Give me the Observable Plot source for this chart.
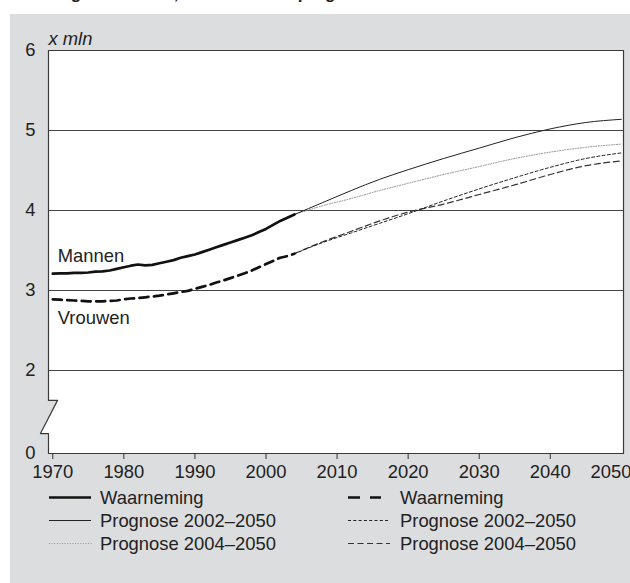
<!DOCTYPE html>
<html><head><meta charset="utf-8">
<script src="https://cdn.jsdelivr.net/npm/d3@7"></script>
<script src="https://cdn.jsdelivr.net/npm/@observablehq/plot@0.6"></script>
<style>
body{margin:0;background:#fff;font-family:"Liberation Sans",Arial,Helvetica,sans-serif;color:#222}
#wrap{position:relative;width:630px;height:583px;overflow:hidden;background:#fff}
#title{position:absolute;left:0;top:0;width:630px;height:14px;overflow:hidden}
#title span{position:absolute;left:0;top:-15px;font-weight:bold;font-size:17px;line-height:18px;white-space:nowrap}
#panel{position:absolute;left:10px;top:14px;width:620px;height:569px;background:#dcdddf}
#chart{position:absolute;left:0;top:0}
.leg{position:absolute;height:23px;line-height:23px;font-size:18.4px;white-space:nowrap}
.leg svg{position:absolute;top:0}
.leg span{position:absolute;top:0}
</style>
</head><body>
<div id="wrap">
  <div id="title"><span>Bevolking naar sekse, 1970–2050 en prognose</span></div>
  <div id="panel"><div id="chart"></div><div id="legend"></div></div>
</div>
<script>
// ---- data ----
const obsYears = [1970,1971,1972,1973,1974,1975,1976,1977,1978,1979,1980,1981,1982,1983,1984,1985,1986,1987,1988,1989,1990,1991,1992,1993,1994,1995,1996,1997,1998,1999,2000,2001,2002,2003,2004];
const mannenObs = [3.21,3.215,3.215,3.22,3.22,3.225,3.235,3.24,3.25,3.27,3.29,3.31,3.325,3.315,3.32,3.34,3.36,3.38,3.41,3.43,3.45,3.48,3.51,3.54,3.57,3.60,3.63,3.66,3.69,3.73,3.77,3.82,3.87,3.91,3.95];
const vrouwenObs = [2.89,2.885,2.88,2.875,2.87,2.865,2.865,2.865,2.87,2.875,2.89,2.90,2.905,2.915,2.925,2.935,2.95,2.965,2.98,2.995,3.02,3.045,3.07,3.10,3.125,3.155,3.185,3.215,3.25,3.29,3.33,3.37,3.41,3.43,3.46];
const progYears = [2004,2008,2012,2016,2020,2025,2030,2035,2040,2045,2050];
const mannen2002 = [3.95,4.10,4.25,4.39,4.51,4.65,4.78,4.91,5.02,5.10,5.14];
const mannen2004 = [3.95,4.06,4.15,4.25,4.34,4.45,4.55,4.65,4.73,4.79,4.83];
const vrouwen2002 = [3.46,3.60,3.72,3.84,3.96,4.12,4.27,4.41,4.54,4.65,4.72];
const vrouwen2004 = [3.46,3.61,3.74,3.87,3.98,4.08,4.20,4.32,4.45,4.56,4.62];
const xTicks = [1970,1980,1990,2000,2010,2020,2030,2040,2050];
const yTicks = [0,2,3,4,5,6];
const gridValues = [2,3,4,5];
const seriesLabels = [
  {name:"Mannen", year:1970.7, value:3.43},
  {name:"Vrouwen", year:1970.7, value:2.65}
];
// frame outline with axis break (data units)
const breakX = [1969.4, 2050.3, 2050.3, 1969.4, 1969.4, 1968.27, 1970.67, 1969.4, 1969.4];
const breakY = [6, 6, 0, 0, 0.48, 0.48, 1.28, 1.28, 6];
const legendItems = [
  {col:0,row:0,label:"Waarneming", w:2.6, dash:null, color:"#111", len:42},
  {col:0,row:1,label:"Prognose 2002–2050", w:1, dash:null, color:"#222", len:42},
  {col:0,row:2,label:"Prognose 2004–2050", w:1, dash:"1,1.6", color:"#999", len:43},
  {col:1,row:0,label:"Waarneming", w:2.6, dash:"12,10", color:"#111", len:33},
  {col:1,row:1,label:"Prognose 2002–2050", w:1, dash:"3,2.3", color:"#222", len:40},
  {col:1,row:2,label:"Prognose 2004–2050", w:1.2, dash:"6,3.5", color:"#333", len:42}
];

// ---- build tables ----
const zip = (xs, ys) => xs.map((x,i)=>({x, y: ys[i]}));
const outline = zip(breakX, breakY);

const W=620, H=472, mL=38, mR=7, mT=36, mB=33;
const font = '"Liberation Sans",Arial,Helvetica,sans-serif';
const FS = 18.4;

const chart = Plot.plot({
  width:W, height:H, marginLeft:mL, marginRight:mR, marginTop:mT, marginBottom:mB,
  style:{background:"transparent", fontFamily:font, fontSize:FS+"px", color:"#222", overflow:"visible"},
  x:{domain:[1969.4,2050.3]},
  y:{type:"linear", domain:[0,2,6], range:[H-mB, H-mB-83, mT]},
  marks:[
    Plot.line(outline, {x:"x", y:"y", fill:"white", stroke:"none", curve:"linear"}),
    Plot.ruleY(gridValues, {stroke:"#444", strokeWidth:1}),
    Plot.line(outline, {x:"x", y:"y", fill:"none", stroke:"#3a3a3a", strokeWidth:1.2, curve:"linear"}),
    Plot.line(zip(progYears, mannen2004), {x:"x", y:"y", stroke:"#8a8a8a", strokeWidth:1, strokeDasharray:"1,1.6", curve:"monotone-x"}),
    Plot.line(zip(progYears, mannen2002), {x:"x", y:"y", stroke:"#222", strokeWidth:1, curve:"monotone-x"}),
    Plot.line(zip(progYears, vrouwen2004), {x:"x", y:"y", stroke:"#333", strokeWidth:1.2, strokeDasharray:"6,3.5", curve:"monotone-x"}),
    Plot.line(zip(progYears, vrouwen2002), {x:"x", y:"y", stroke:"#222", strokeWidth:1, strokeDasharray:"3,2.3", curve:"monotone-x"}),
    Plot.line(zip(obsYears, mannenObs), {x:"x", y:"y", stroke:"#111", strokeWidth:2.7}),
    Plot.line(zip(obsYears, vrouwenObs), {x:"x", y:"y", stroke:"#111", strokeWidth:2.7, strokeDasharray:"9,5.5"}),
    Plot.text(seriesLabels, {x:"year", y:"value", text:"name", textAnchor:"start", fontSize:FS, fill:"#222"}),
    Plot.text(["x mln"], {frameAnchor:"top-left", text:d=>d, dy:-11, lineAnchor:"middle", textAnchor:"start", fontStyle:"italic", fontSize:FS, fill:"#222"}),
    Plot.axisX(xTicks.slice(0,-1), {tickSize:6, tickPadding:5, tickFormat:"d", fontSize:FS, stroke:"#333"}),
    Plot.axisX(xTicks.slice(-1), {tickSize:6, tickPadding:5, tickFormat:"d", fontSize:FS, stroke:"#333", textAnchor:"end", dx:10}),
    Plot.axisY({ticks:yTicks, tickSize:0, tickPadding:13, tickFormat:"d", fontSize:FS})
  ]
});
document.getElementById("chart").appendChild(chart);

// ---- legend ----
const leg = document.getElementById("legend");
const colX = [[39, 90], [338, 390]];
legendItems.forEach(it => {
  const d = document.createElement("div");
  d.className = "leg";
  d.style.left = colX[it.col][0] + "px";
  d.style.top = (472 + it.row*23) + "px";
  const ns = "http://www.w3.org/2000/svg";
  const s = document.createElementNS(ns, "svg");
  s.setAttribute("width", it.len + 2); s.setAttribute("height", 23);
  const l = document.createElementNS(ns, "line");
  l.setAttribute("x1", 0); l.setAttribute("x2", it.len);
  l.setAttribute("y1", 11.5); l.setAttribute("y2", 11.5);
  l.setAttribute("stroke", it.color); l.setAttribute("stroke-width", it.w);
  if (it.dash) l.setAttribute("stroke-dasharray", it.dash);
  s.appendChild(l); d.appendChild(s);
  const t = document.createElement("span");
  t.textContent = it.label;
  t.style.left = (colX[it.col][1] - colX[it.col][0]) + "px";
  d.appendChild(t);
  leg.appendChild(d);
});
</script>
</body></html>
